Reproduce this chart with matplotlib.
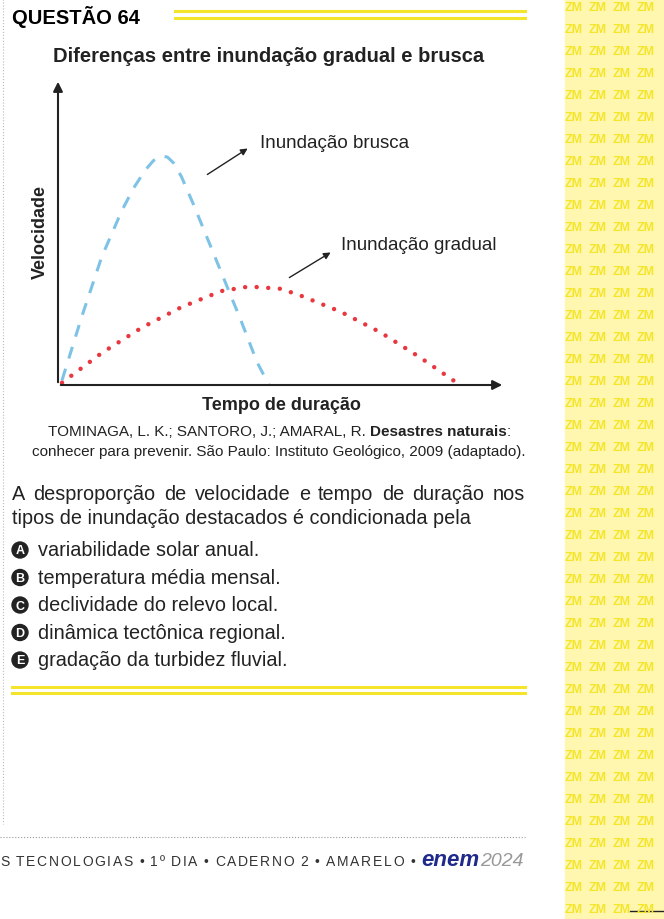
import matplotlib
matplotlib.use("Agg")
import matplotlib.pyplot as plt
from matplotlib.patches import Rectangle, Ellipse

plt.rcParams['font.family'] = ['Liberation Sans', 'DejaVu Sans']

# data
brusca_t = [0, 0.5, 1, 1.5, 1.8, 2.1, 2.3, 2.5, 2.65, 2.8, 3.0, 3.3, 3.7, 4.1, 4.5, 4.9, 5.2]
brusca_v = [0.2, 3.0, 5.6, 7.6, 8.6, 9.4, 9.8, 10.0, 9.95, 9.7, 9.1, 7.9, 6.2, 4.5, 2.8, 1.0, 0]
gradual_t = [0, 1, 2, 3, 4, 4.7, 5.5, 6, 7, 8, 9, 10]
gradual_v = [0.1, 1.4, 2.5, 3.4, 4.1, 4.3, 4.2, 3.9, 3.2, 2.3, 1.2, 0]
options = [("A", "variabilidade solar anual."), ("B", "temperatura média mensal."),
           ("C", "declividade do relevo local."), ("D", "dinâmica tectônica regional."),
           ("E", "gradação da turbidez fluvial.")]

W, H = 664, 920
fig = plt.figure(figsize=(W/100, H/100), dpi=100)
def px(x, y): return (x/W, 1-y/H)
def T(x, y, s, **kw): return fig.text(*px(x, y), s, **kw)
def hline(x0, x1, y, c, lw=1, ls='-'):
    fig.add_artist(plt.Line2D([x0/W, x1/W], [1-y/H, 1-y/H], color=c, lw=lw, ls=ls))
renderer = fig.canvas.get_renderer()

def justify(x0, x1, y, s, **kw):
    words = s.split()
    ts = [T(0, y, w, va='center', **kw) for w in words]
    ws = [t.get_window_extent(renderer).width for t in ts]
    gap = (x1 - x0 - sum(ws)) / (len(words) - 1)
    x = x0
    for t, w in zip(ts, ws):
        t.set_position(px(x, y)); x += w + gap

def spaced(x0, x1, y, s, **kw):
    ts = [T(0, y, ch, va='center', **kw) for ch in s]
    ws = [t.get_window_extent(renderer).width if ch != ' ' else 3 for t, ch in zip(ts, s)]
    extra = (x1 - x0 - sum(ws)) / (len(s) - 1)
    x = x0
    for t, w in zip(ts, ws):
        t.set_position(px(x, y)); x += w + extra

Y = '#f5e52a'
fig.add_artist(Rectangle(px(565, 920), 99/W, 920/H, transform=fig.transFigure, color='#fff7b0', zorder=0))
for r in range(0, 920, 22):
    for c in range(565, 660, 24):
        T(c, r+8, "ZM", fontsize=9, color=Y, fontweight='bold', va='center')

# header
T(12, 17, "QUESTÃO 64", fontsize=14.5, fontweight='bold', va='center')
hline(175, 525, 12, Y, 2.2); hline(175, 525, 19, Y, 2.2)
T(269, 57, "Diferenças entre inundação gradual e brusca", fontsize=14.5, fontweight='bold', ha='center', va='center', color='#222')

# chart
ax = fig.add_axes([58/W, 1-386/H, 447/W, 306/H])
ax.set_xlim(-0.1, 11.13); ax.set_ylim(0, 13.36)
ax.plot(brusca_t, brusca_v, color='#7ec3e6', lw=2.2, ls=(0, (4, 3.5)))
ax.plot(gradual_t, gradual_v, color='#e8373f', lw=3.2, ls=(0, (0.01, 2.6)), dash_capstyle='round')
for s in ['top', 'right', 'left', 'bottom']: ax.spines[s].set_visible(False)
ax.set_xticks([]); ax.set_yticks([])
ax.annotate('', xy=(1.0, 0), xytext=(0, 0), xycoords='axes fraction',
            arrowprops=dict(arrowstyle='-|>', color='#222', lw=1.5, mutation_scale=14))
ax.annotate('', xy=(0, 1.0), xytext=(0, 0), xycoords='axes fraction',
            arrowprops=dict(arrowstyle='-|>', color='#222', lw=1.5, mutation_scale=14))
ax.patch.set_alpha(0)
T(40, 232, "Velocidade", fontsize=13, fontweight='bold', rotation=90, ha='center', va='center', color='#222')
T(281, 405, "Tempo de duração", fontsize=13, fontweight='bold', ha='center', va='center', color='#222')
T(260, 143, "Inundação brusca", fontsize=13.5, va='center', color='#222')
T(341, 246, "Inundação gradual", fontsize=13.5, va='center', color='#222')
for (a, b) in [((205, 177), (250, 148)), ((287, 280), (333, 252))]:
    ax.annotate('', xy=px(*b), xytext=px(*a), xycoords='figure fraction', textcoords='figure fraction',
                arrowprops=dict(arrowstyle='-|>', color='#222', lw=1, mutation_scale=10))

# citation
t2 = T(525, 452, "conhecer para prevenir. São Paulo: Instituto Geológico, 2009 (adaptado).", fontsize=11, ha='right', va='center', color='#222')
a = T(48, 432, "TOMINAGA, L. K.; SANTORO, J.; AMARAL, R. ", fontsize=11, va='center', color='#222')
xa = 48 + a.get_window_extent(renderer).width
b = T(xa, 432, "Desastres naturais", fontsize=11, fontweight='bold', va='center', color='#222')
T(xa + b.get_window_extent(renderer).width, 432, ":", fontsize=11, va='center', color='#222')

justify(12, 525, 495, "A desproporção de velocidade e tempo de duração nos", fontsize=14.3, color='#222')
T(12, 519, "tipos de inundação destacados é condicionada pela", fontsize=14.3, va='center', color='#222')
for i, (l, s) in enumerate(options):
    y = 551 + i*27.5
    fig.add_artist(Ellipse(px(20, y), 16/W, 16/H, transform=fig.transFigure, color='#222'))
    T(20, y+0.5, l, fontsize=9, fontweight='bold', color='white', ha='center', va='center')
    T(38, y, s, fontsize=14.3, va='center', color='#222')
hline(12, 525, 688, Y, 2.2); hline(12, 525, 694, Y, 2.2)

# footer
hline(0, 525, 838, '#999', 0.8, ':')
spaced(0, 415, 862, "S TECNOLOGIAS • 1º DIA • CADERNO 2 • AMARELO •", fontsize=10, color='#333')
T(421, 861, "enem", fontsize=16, fontweight='bold', color='#1f2a8a', va='center', style='italic')
T(480, 862, "2024", fontsize=14, color='#999', va='center', style='italic')
fig.add_artist(plt.Line2D([3/W, 3/W], [1-0/H, 1-825/H], color='#bbb', lw=0.8, ls=':'))
hline(630, 664, 912, '#222', 1)

fig.savefig("out.png", dpi=100)
